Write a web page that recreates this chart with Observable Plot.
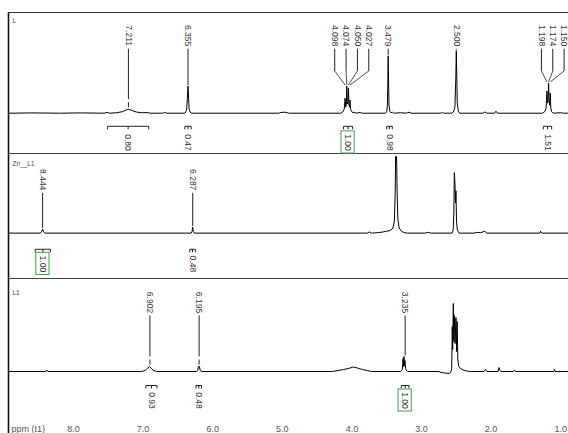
<!DOCTYPE html>
<html><head><meta charset="utf-8">
<script src="https://cdn.jsdelivr.net/npm/d3@7"></script>
<script src="https://cdn.jsdelivr.net/npm/@observablehq/plot@0.6"></script>
<style>
body{margin:0;background:#fff;}
#chart svg{display:block;}
</style></head><body><div id="chart"></div>
<script>
// ---------- data ----------
const ppmTicks = [8, 7, 6, 5, 4, 3, 2, 1];
const axisTitle = "ppm (t1)";
const panelNames = ["L", "Zn__L1", "L1"];

// spectrum points [ppm, intensity]
const spec1 = [[8.934,0],[8.6,0.3],[8.2,0],[7.9,0.3],[7.56,0],[7.52,0.8],[7.48,0],[7.38,0.5],[7.30,1.5],[7.25,3],[7.211,4],[7.17,3],[7.10,1.2],[7.02,0.5],[6.93,0.6],[6.90,0],[6.72,0],[6.69,0.8],[6.66,0],[6.40,0],[6.375,3],[6.365,14],[6.355,27],[6.348,18],[6.34,5],[6.325,1],[6.30,0],[5.05,0],[5.02,0.8],[4.96,1],[4.92,0.3],[4.90,0],[4.16,0],[4.13,1.5],[4.11,4],[4.098,15],[4.088,6],[4.080,9],[4.074,27],[4.066,9],[4.057,10],[4.050,25],[4.042,8],[4.034,6],[4.027,13],[4.018,4],[4.005,2],[3.99,0.5],[3.97,1],[3.94,0],[3.88,0.8],[3.85,0],[3.52,0],[3.50,1.5],[3.49,7],[3.484,30],[3.479,57],[3.474,35],[3.467,8],[3.455,2],[3.44,0.5],[3.42,1],[3.40,0],[3.30,0.5],[3.22,0],[3.18,1],[3.15,0],[2.72,0],[2.70,0.8],[2.68,0],[2.57,0],[2.54,1.5],[2.52,6],[2.507,35],[2.500,62],[2.494,40],[2.486,10],[2.47,2],[2.45,0],[2.12,0],[2.09,1.2],[2.06,0],[1.95,0],[1.93,2],[1.91,0],[1.26,0],[1.23,1.5],[1.21,5],[1.198,22],[1.19,10],[1.182,12],[1.174,30],[1.167,12],[1.158,8],[1.150,20],[1.142,5],[1.13,1.5],[1.11,0],[1.0,0.5],[0.96,0],[0.888,0]];
const spec2 = [[8.934,0],[8.48,0],[8.46,1],[8.444,4],[8.43,1.5],[8.41,0],[6.31,0],[6.298,1.5],[6.287,6],[6.278,1.5],[6.265,0],[3.78,0],[3.75,1.2],[3.72,0],[3.62,0.5],[3.55,1.2],[3.50,2],[3.45,2.5],[3.41,5],[3.39,12],[3.378,40],[3.372,76],[3.366,72],[3.358,76],[3.35,40],[3.34,14],[3.32,5],[3.29,2],[3.25,0.5],[3.2,0],[2.95,0],[2.90,0.8],[2.86,0],[2.56,0],[2.545,3],[2.535,20],[2.528,60],[2.52,50],[2.512,30],[2.505,42],[2.497,12],[2.485,3],[2.46,0],[2.25,0],[2.20,0.8],[2.15,0.5],[2.09,1.8],[2.06,0],[1.30,0],[1.29,1.8],[1.27,0],[0.888,0]];
const spec3 = [[8.934,0],[8.40,0],[8.385,1.5],[8.37,0],[7.02,0],[6.97,1],[6.94,3],[6.91,5],[6.88,3],[6.85,1],[6.82,0.5],[6.80,0],[6.23,0],[6.215,1],[6.205,5],[6.19,5],[6.18,1],[6.165,0],[4.28,0],[4.20,1],[4.12,2],[4.05,3],[3.98,4.5],[3.92,3.5],[3.85,2],[3.78,1],[3.72,0],[3.30,0],[3.275,2],[3.265,13],[3.258,5],[3.252,15],[3.245,6],[3.238,11],[3.228,3],[3.215,1],[3.20,0],[2.75,0],[2.72,-1],[2.66,-1.5],[2.60,-2],[2.58,-1],[2.566,3],[2.558,45],[2.552,22],[2.543,68],[2.536,30],[2.528,56],[2.518,28],[2.505,54],[2.496,20],[2.488,50],[2.478,12],[2.465,5],[2.44,3],[2.40,1.5],[2.35,0.5],[2.30,0],[2.10,0],[2.08,2],[2.06,0],[1.90,0],[1.885,4],[1.875,1],[1.86,0],[1.68,0],[1.665,1.5],[1.65,0],[1.10,0],[1.09,2],[1.08,0],[0.888,0]];

// peak labels
const p1Singles = [7.211, 6.355, 3.479, 2.500];
const p1Multiplets = [[4.098, 4.074, 4.050, 4.027], [1.198, 1.174, 1.150]];
const p2Singles = [8.444, 6.287];
const p3Singles = [6.902, 6.195, 3.235];

// integrals
const int1Values = ["0.80", "0.47", "1.00", "0.98", "1.51"];
const int1From = [7.51, 6.40, 4.12, 3.50, 1.25];
const int1To = [6.92, 6.31, 3.99, 3.42, 1.13];
const int1Ref = 2;
const int2Values = ["1.00", "0.48"];
const int2From = [8.55, 6.33];
const int2To = [8.33, 6.25];
const int2Ref = 0;
const int3Values = ["0.93", "0.48", "1.00"];
const int3From = [6.96, 6.24, 3.29];
const int3To = [6.80, 6.16, 3.18];
const int3Ref = 2;

// ---------- drawing ----------
const xDomain = [8.934, 0.888];
const font = "Liberation Sans, Arial, sans-serif";
const labelColor = "#333";

function topNear(spec, p, w) {
  return d3.max(spec.filter(d => Math.abs(d[0] - p) <= w), d => d[1]) ?? 0;
}

function panel(o) {
  const [ymin, ymax] = o.yDomain;
  const marks = [];
  // frame
  marks.push(Plot.ruleX([xDomain[0]], {y1: ymin, y2: ymax, stroke: "#111", strokeWidth: 1.6}));
  if (o.topLine) marks.push(Plot.ruleY([ymax], {stroke: "#333"}));
  if (o.bottomLine) marks.push(Plot.ruleY([ymin], {stroke: "#444"}));
  // spectrum
  marks.push(Plot.line(o.spec, {x: d => d[0], y: d => d[1], stroke: "#000", strokeWidth: 1}));
  // single peak labels
  const singles = o.singles.map(p => {
    const top = topNear(o.spec, p, 0.031);
    const small = o.dash && top < 10;
    return {p, top, end: small ? top + 10 : top + 1, small};
  });
  marks.push(Plot.link(singles, {x1: d => d.p, x2: d => d.p, y1: o.lineStart, y2: d => d.end, stroke: "#222", strokeWidth: 1}));
  marks.push(Plot.link(singles.filter(d => d.small), {x1: d => d.p, x2: d => d.p, y1: d => d.top + 7, y2: d => d.top + 2, stroke: "#222", strokeWidth: 1}));
  marks.push(Plot.text(singles, {x: d => d.p, y: o.labelY, text: d => d.p.toFixed(3), rotate: 90, fontSize: 8.5, fill: labelColor}));
  // multiplet labels
  const mLabels = [];
  (o.multiplets || []).forEach(group => {
    const n = group.length;
    const center = d3.mean(group) - 0.06;
    const top = topNear(o.spec, d3.mean(group), 0.04);
    group.forEach((p, i) => {
      mLabels.push({p, lx: center + ((n - 1) / 2 - i) * 0.163, top});
    });
  });
  marks.push(Plot.link(mLabels, {x1: d => d.lx, x2: d => d.lx, y1: o.lineStart, y2: o.bendY, stroke: "#222", strokeWidth: 1}));
  marks.push(Plot.link(mLabels, {x1: d => d.lx, x2: d => d.p, y1: o.bendY, y2: d => d.top + 1, stroke: "#222", strokeWidth: 0.8}));
  marks.push(Plot.text(mLabels, {x: d => d.lx, y: o.labelY, text: d => d.p.toFixed(3), rotate: 90, fontSize: 8.5, fill: labelColor}));
  // integrals
  const ints = o.intValues.map((v, i) => ({v, a: o.intFrom[i], b: o.intTo[i], c: (o.intFrom[i] + o.intTo[i]) / 2, ref: i === o.intRef}));
  marks.push(Plot.link(ints, {x1: d => d.a, x2: d => d.b, y1: o.bracketY, y2: o.bracketY, stroke: "#222", strokeWidth: 1}));
  marks.push(Plot.link(ints, {x1: d => d.a, x2: d => d.a, y1: o.bracketY, y2: o.bracketY - 3, stroke: "#222", strokeWidth: 1}));
  marks.push(Plot.link(ints, {x1: d => d.b, x2: d => d.b, y1: o.bracketY, y2: o.bracketY - 3, stroke: "#222", strokeWidth: 1}));
  marks.push(Plot.link(ints, {x1: d => d.c, x2: d => d.c, y1: o.bracketY, y2: o.bracketY - 3, stroke: "#222", strokeWidth: 1}));
  marks.push(Plot.rect(ints.filter(d => d.ref), {x1: d => d.c + 0.095, x2: d => d.c - 0.095, y1: o.intY - 11, y2: o.intY + 11, fill: "none", stroke: "#3aa845", strokeWidth: 1}));
  marks.push(Plot.text(ints, {x: d => d.c, y: o.intY, text: d => d.v, rotate: 90, fontSize: 8.5, fill: labelColor}));
  // panel name
  marks.push(Plot.text([o.name], {frameAnchor: "top-left", dx: 4, dy: o.nameDy, text: d => d, fontSize: 6.5, fill: "#444", textAnchor: "start"}));
  if (o.axis) {
    marks.push(Plot.text(ppmTicks, {x: d => d, y: o.axisY, text: d => d.toFixed(1), fontSize: 9, fill: "#555"}));
    marks.push(Plot.text([axisTitle], {x: xDomain[0], y: o.axisY, dx: 3, text: d => d, fontSize: 9, fill: "#555", textAnchor: "start"}));
  }
  return Plot.plot({
    width: 568, height: o.height,
    marginLeft: 8, marginRight: 0, marginTop: o.mt, marginBottom: 0,
    x: {domain: xDomain, axis: null},
    y: {domain: o.yDomain, axis: null},
    style: {fontFamily: font, background: "#fff", overflow: "visible"},
    marks
  });
}

const chart = document.getElementById("chart");
chart.append(panel({
  height: 153, mt: 12, yDomain: [-40, 100], topLine: true, bottomLine: true,
  spec: spec1, singles: p1Singles, multiplets: p1Multiplets, dash: true,
  labelY: 77, lineStart: 64, bendY: 42,
  intValues: int1Values, intFrom: int1From, intTo: int1To, intRef: int1Ref,
  bracketY: -13, intY: -29, name: panelNames[0], nameDy: 6
}));
chart.append(panel({
  height: 125, mt: 0, yDomain: [-45, 79], topLine: false, bottomLine: true,
  spec: spec2, singles: p2Singles, multiplets: [], dash: false,
  labelY: 53, lineStart: 40, bendY: 30,
  intValues: int2Values, intFrom: int2From, intTo: int2To, intRef: int2Ref,
  bracketY: -16, intY: -30.5, name: panelNames[1], nameDy: 8
}));
chart.append(panel({
  height: 155, mt: 0, yDomain: [-62, 93], topLine: false, bottomLine: false,
  spec: spec3, singles: p3Singles, multiplets: [], dash: true,
  labelY: 69, lineStart: 56, bendY: 40,
  intValues: int3Values, intFrom: int3From, intTo: int3To, intRef: int3Ref,
  bracketY: -14, intY: -29, name: panelNames[2], nameDy: 12,
  axis: true, axisY: -58
}));
</script></body></html>
